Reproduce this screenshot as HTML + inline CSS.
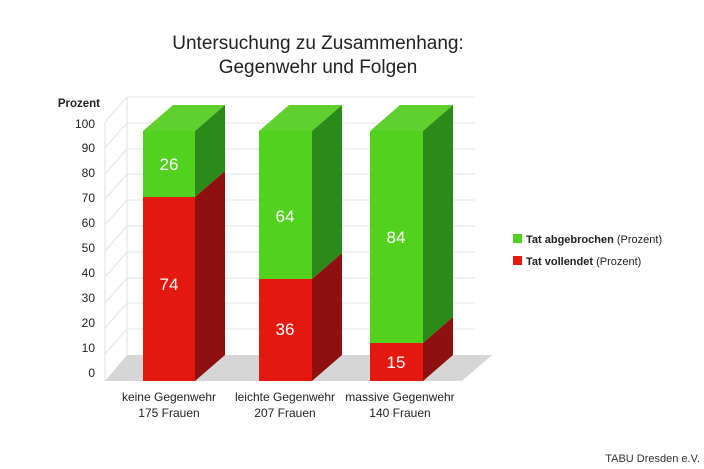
<!DOCTYPE html><html><head><style>body{margin:0;background:#fff}svg{display:block;font-family:"Liberation Sans",sans-serif}</style></head><body>
<svg width="704" height="469" viewBox="0 0 704 469">
<text x="318" y="49" font-size="19" text-anchor="middle" fill="#222">Untersuchung zu Zusammenhang:</text>
<text x="318" y="73" font-size="19" text-anchor="middle" fill="#222">Gegenwehr und Folgen</text>
<g stroke="#e2e2e2" stroke-width="1" fill="none">
<path d="M127 97V355M105 122V381"/>
</g>
<g stroke="#e4e4e4">
<line x1="127" y1="97" x2="475" y2="97"/><line x1="127" y1="123" x2="475" y2="123"/><line x1="127" y1="149" x2="475" y2="149"/><line x1="127" y1="174" x2="475" y2="174"/><line x1="127" y1="200" x2="475" y2="200"/><line x1="127" y1="226" x2="475" y2="226"/><line x1="127" y1="252" x2="475" y2="252"/><line x1="127" y1="278" x2="475" y2="278"/><line x1="127" y1="303" x2="475" y2="303"/><line x1="127" y1="329" x2="475" y2="329"/>
<line x1="105" y1="148" x2="127" y2="123"/><line x1="105" y1="174" x2="127" y2="149"/><line x1="105" y1="199" x2="127" y2="174"/><line x1="105" y1="225" x2="127" y2="200"/><line x1="105" y1="251" x2="127" y2="226"/><line x1="105" y1="277" x2="127" y2="252"/><line x1="105" y1="303" x2="127" y2="278"/><line x1="105" y1="328" x2="127" y2="303"/><line x1="105" y1="354" x2="127" y2="329"/><line x1="105" y1="122" x2="127" y2="97"/>
</g>
<polygon points="127,355 492,355 462,381 105,381" fill="#d6d6d6"/>
<g font-size="12" fill="#222" text-anchor="end">
<text x="100" y="107" font-weight="bold" font-size="11.5">Prozent</text>
<text x="95" y="128">100</text><text x="95" y="152">90</text><text x="95" y="177">80</text><text x="95" y="202">70</text><text x="95" y="227">60</text><text x="95" y="252">50</text><text x="95" y="277">40</text><text x="95" y="302">30</text><text x="95" y="327">20</text><text x="95" y="352">10</text><text x="95" y="377">0</text>
</g>
<polygon points="143,131 173,105 225,105 195,131" fill="#5fd02e"/>
<polygon points="195,131 225,105 225,171 195,197" fill="#2a8a1a"/>
<polygon points="195,197 225,171 225,355 195,381" fill="#8e1010"/>
<rect x="143" y="131" width="52" height="66" fill="#52d11f"/>
<rect x="143" y="197" width="52" height="184" fill="#e3180f"/>
<polygon points="259,131 289,105 342,105 312,131" fill="#5fd02e"/>
<polygon points="312,131 342,105 342,253 312,279" fill="#2a8a1a"/>
<polygon points="312,279 342,253 342,355 312,381" fill="#8e1010"/>
<rect x="259" y="131" width="53" height="148" fill="#52d11f"/>
<rect x="259" y="279" width="53" height="102" fill="#e3180f"/>
<polygon points="370,131 400,105 453,105 423,131" fill="#5fd02e"/>
<polygon points="423,131 453,105 453,317 423,343" fill="#2a8a1a"/>
<polygon points="423,343 453,317 453,355 423,381" fill="#8e1010"/>
<rect x="370" y="131" width="53" height="212" fill="#52d11f"/>
<rect x="370" y="343" width="53" height="38" fill="#e3180f"/>
<g font-size="17" fill="#fff" text-anchor="middle">
<text x="169" y="170">26</text><text x="169" y="290">74</text>
<text x="285" y="222">64</text><text x="285" y="335">36</text>
<text x="396" y="243">84</text><text x="396" y="368">15</text>
</g>
<g font-size="12" fill="#222" text-anchor="middle">
<text x="169" y="401">keine Gegenwehr</text><text x="169" y="417">175 Frauen</text>
<text x="285" y="401">leichte Gegenwehr</text><text x="285" y="417">207 Frauen</text>
<text x="400" y="401">massive Gegenwehr</text><text x="400" y="417">140 Frauen</text>
</g>
<rect x="513" y="234" width="9" height="9" fill="#52d11f"/>
<rect x="513" y="256" width="9" height="9" fill="#e3180f"/>
<text x="526" y="243" font-size="11" fill="#222"><tspan font-weight="bold">Tat abgebrochen</tspan> (Prozent)</text>
<text x="526" y="265" font-size="11" fill="#222"><tspan font-weight="bold">Tat vollendet</tspan> (Prozent)</text>
<text x="700" y="462" font-size="11" fill="#333" text-anchor="end">TABU Dresden e.V.</text>
</svg></body></html>
